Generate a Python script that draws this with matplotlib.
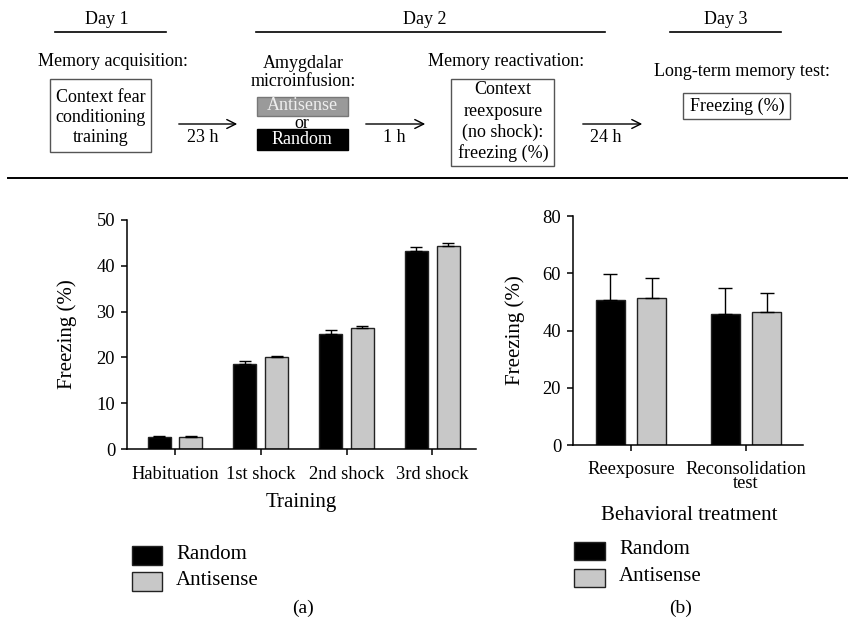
import matplotlib
matplotlib.use("Agg")
import matplotlib.pyplot as plt
from matplotlib.patches import Rectangle, FancyArrowPatch
import numpy as np

plt.rcParams["font.family"] = ["Liberation Serif", "DejaVu Serif"]
plt.rcParams["font.size"] = 13

# panel (a): training sessions
training_labels = ["Habituation", "1st shock", "2nd shock", "3rd shock"]
train_random = [2.7, 18.6, 25.2, 43.3]
train_random_err = [0.2, 0.7, 0.8, 0.9]
train_antisense = [2.6, 20.0, 26.4, 44.3]
train_antisense_err = [0.2, 0.4, 0.5, 0.6]

# panel (b): behavioral treatment
treat_labels = ["Reexposure", "Reconsolidation\ntest"]
treat_random = [50.8, 45.6]
treat_random_err = [8.9, 9.3]
treat_antisense = [51.4, 46.3]
treat_antisense_err = [6.9, 6.8]

BLACK = "#000000"
GRAY = "#c8c8c8"
W, H = 848, 622
TICK_FS = 13.3
LABEL_FS = 15
LEG_FS = 15


def fx(px):
    return px / W


def fy(py):
    return 1 - py / H


fig = plt.figure(figsize=(8.48, 6.22), dpi=100)


def ftext(x, y, s, **kw):
    kw.setdefault("ha", "center")
    kw.setdefault("va", "center")
    fig.text(fx(x), fy(y), s, **kw)


def fline(x0, x1, y, lw=1.2):
    fig.add_artist(plt.Line2D([fx(x0), fx(x1)], [fy(y), fy(y)], color="black", lw=lw))


def fbox(x0, y0, x1, y1, fc="none", ec="#555555"):
    fig.add_artist(Rectangle((fx(x0), fy(y1)), fx(x1) - fx(x0), fy(y0) - fy(y1),
                             transform=fig.transFigure, fc=fc, ec=ec, lw=1))


def farrow(x0, x1, y):
    fig.add_artist(FancyArrowPatch((fx(x0), fy(y)), (fx(x1), fy(y)),
                                   transform=fig.transFigure, arrowstyle="->",
                                   mutation_scale=16, lw=1, color="black"))


# --- timeline diagram on top ---
ftext(107, 19, "Day 1")
fline(55, 166, 32)
ftext(425, 19, "Day 2")
fline(256, 605, 32)
ftext(726, 19, "Day 3")
fline(670, 781, 32)

ftext(113, 61, "Memory acquisition:")
fbox(50, 79, 151, 152)
for yy, s in zip([97, 117, 138], ["Context fear", "conditioning", "training"]):
    ftext(101, yy, s)
farrow(176, 240, 124)
ftext(203, 138, "23 h")

ftext(303, 63, "Amygdalar")
ftext(303, 82, "microinfusion:")
fbox(257, 97, 348, 116, fc="#9a9a9a", ec="#777777")
ftext(302, 106, "Antisense", color="#eeeeee")
ftext(302, 123.5, "or")
fbox(257, 129, 348, 150, fc=BLACK, ec=BLACK)
ftext(302, 139, "Random", color="white")
farrow(363, 428, 124)
ftext(394, 138, "1 h")

ftext(506, 62, "Memory reactivation:")
fbox(451, 79, 554, 166)
for yy, s in zip([89, 111, 132, 153], ["Context", "reexposure", "(no shock):", "freezing (%)"]):
    ftext(503, yy, s)
farrow(580, 645, 124)
ftext(606, 138, "24 h")

ftext(742, 72, "Long-term memory test:")
fbox(683, 93, 790, 119)
ftext(737, 106, "Freezing (%)")

fline(8, 848, 178, lw=1.4)


def style_axes(ax, xpad):
    ax.spines["top"].set_visible(False)
    ax.spines["right"].set_visible(False)
    ax.spines["left"].set_linewidth(1.1)
    ax.spines["bottom"].set_linewidth(1.1)
    ax.tick_params(direction="out", length=4, width=1.1, labelsize=TICK_FS)
    ax.tick_params(axis="y", pad=4.5)
    ax.tick_params(axis="x", pad=xpad)


def bars(ax, x, vals, errs, color, width, cap):
    ax.bar(x, vals, width=width, color=color, edgecolor="#222222", linewidth=1,
           yerr=[np.zeros(len(errs)), errs], ecolor="black",
           error_kw=dict(elinewidth=1, capsize=cap, capthick=1), zorder=2)


# --- panel (a) ---
ax1 = fig.add_axes([fx(127), fy(449), fx(476) - fx(127), fy(220) - fy(449)])
xa = np.arange(len(training_labels))
bars(ax1, xa - 0.185, train_random, train_random_err, BLACK, 0.27, 4)
bars(ax1, xa + 0.185, train_antisense, train_antisense_err, GRAY, 0.27, 4)
ax1.set_xlim(-0.56, 3.51)
ax1.set_ylim(0, 50)
ax1.set_yticks([0, 10, 20, 30, 40, 50])
ax1.set_xticks(xa)
ax1.set_xticklabels(training_labels)
style_axes(ax1, 8.5)
ax1.set_ylabel("Freezing (%)", fontsize=LABEL_FS, va="center")
ax1.yaxis.set_label_coords((67 - 127) / 349, 0.5)
ax1.set_xlabel("Training", fontsize=LABEL_FS, va="center")
ax1.xaxis.set_label_coords(0.5, -(502 - 449) / 229)

# --- panel (b) ---
ax2 = fig.add_axes([fx(573), fy(445), fx(803) - fx(573), fy(216) - fy(445)])
xb = np.arange(len(treat_labels))
bars(ax2, xb - 0.18, treat_random, treat_random_err, BLACK, 0.25, 5)
bars(ax2, xb + 0.18, treat_antisense, treat_antisense_err, GRAY, 0.25, 5)
ax2.set_xlim(-0.504, 1.496)
ax2.set_ylim(0, 80)
ax2.set_yticks([0, 20, 40, 60, 80])
ax2.set_xticks(xb)
ax2.set_xticklabels(treat_labels, linespacing=0.8)
style_axes(ax2, 7.5)
ax2.set_ylabel("Freezing (%)", fontsize=LABEL_FS, va="center")
ax2.yaxis.set_label_coords((515 - 573) / 230, 0.5)
ax2.set_xlabel("Behavioral treatment", fontsize=LABEL_FS, va="center")
ax2.xaxis.set_label_coords((689 - 573) / 230, -(515 - 445) / 229)


# --- legends ---
def legend_at(x0, x1, y_rand, y_anti, h, xt):
    for yc, col, lab in [(y_rand, BLACK, "Random"), (y_anti, GRAY, "Antisense")]:
        fbox(x0, yc - h / 2, x1, yc + h / 2, fc=col, ec="#222222")
        ftext(xt, yc - 1, lab, ha="left", fontsize=LEG_FS)


legend_at(132, 162, 555.5, 581.5, 19, 176)
legend_at(574, 605, 550.5, 577.5, 18, 619)

ftext(303, 608, "(a)", fontsize=14)
ftext(681, 608, "(b)", fontsize=14)

fig.savefig("out.png", dpi=100)
